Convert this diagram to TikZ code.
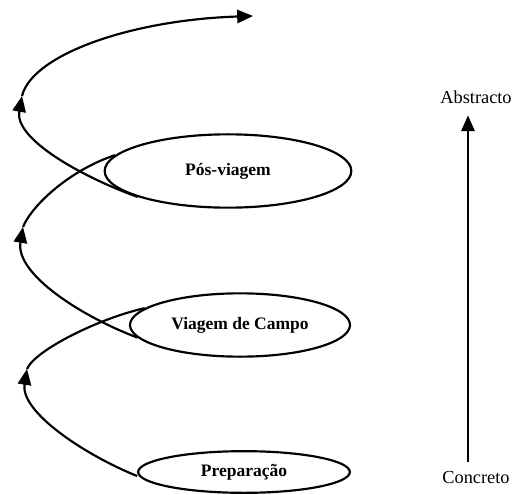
\documentclass[tikz,border=0pt]{standalone}
\usepackage{amsmath}
\usepackage{fontspec}
\setmainfont{Liberation Serif}
\usepackage{tikz}
\usetikzlibrary{arrows.meta, shapes.geometric, calc}

\tikzset{
    etapa/.style={ellipse, draw, line width=1.3pt, inner sep=0pt, font=\fontsize{10.5}{12}\selectfont\bfseries},
    linha/.style={line width=1.3pt},
    espiral/.style={linha, -{Triangle[length=9.5pt, width=8pt]}}
}

\begin{document}
\begin{tikzpicture}[x=0.6pt, y=-0.6pt, font=\fontsize{11}{13}\selectfont]
    \useasboundingbox (0, 0) rectangle (513, 495);

    \node[etapa, minimum width=127pt, minimum height=25pt] (prep) at (244, 472) {Preparação};
    \node[etapa, minimum width=132pt, minimum height=38pt] (campo) at (240, 325) {Viagem de Campo};
    \node[etapa, minimum width=148pt, minimum height=44pt] (pos) at (228, 171) {Pós-viagem};

    \coordinate (a1) at (27, 369);
    \coordinate (a2) at (23, 227);
    \coordinate (a3) at (22, 96);
    \coordinate (a4) at (253, 16);

    % espiral, de baixo para cima
    \draw[espiral] ($(prep.west) + (0, 4)$) .. controls (85, 455) and (20, 412) .. (a1);
    \draw[linha] (a1) .. controls (35, 350) and (100, 318) .. (campo.170);
    \draw[espiral] (campo.187) .. controls (85, 318) and (15, 275) .. (a2);
    \draw[linha] (a2) .. controls (32, 205) and (70, 170) .. (pos.172);
    \draw[espiral] (pos.196) .. controls (85, 178) and (14, 140) .. (a3);
    \draw[espiral] (a3) .. controls (32, 55) and (130, 20) .. (a4);

    \node (abs) at (476, 97) {Abstracto};
    \node (conc) at (476, 478) {Concreto};
    \draw[espiral] ($(conc.north) + (-8, -4)$) -- ($(abs.south) + (-8, 6)$);
\end{tikzpicture}
\end{document}
